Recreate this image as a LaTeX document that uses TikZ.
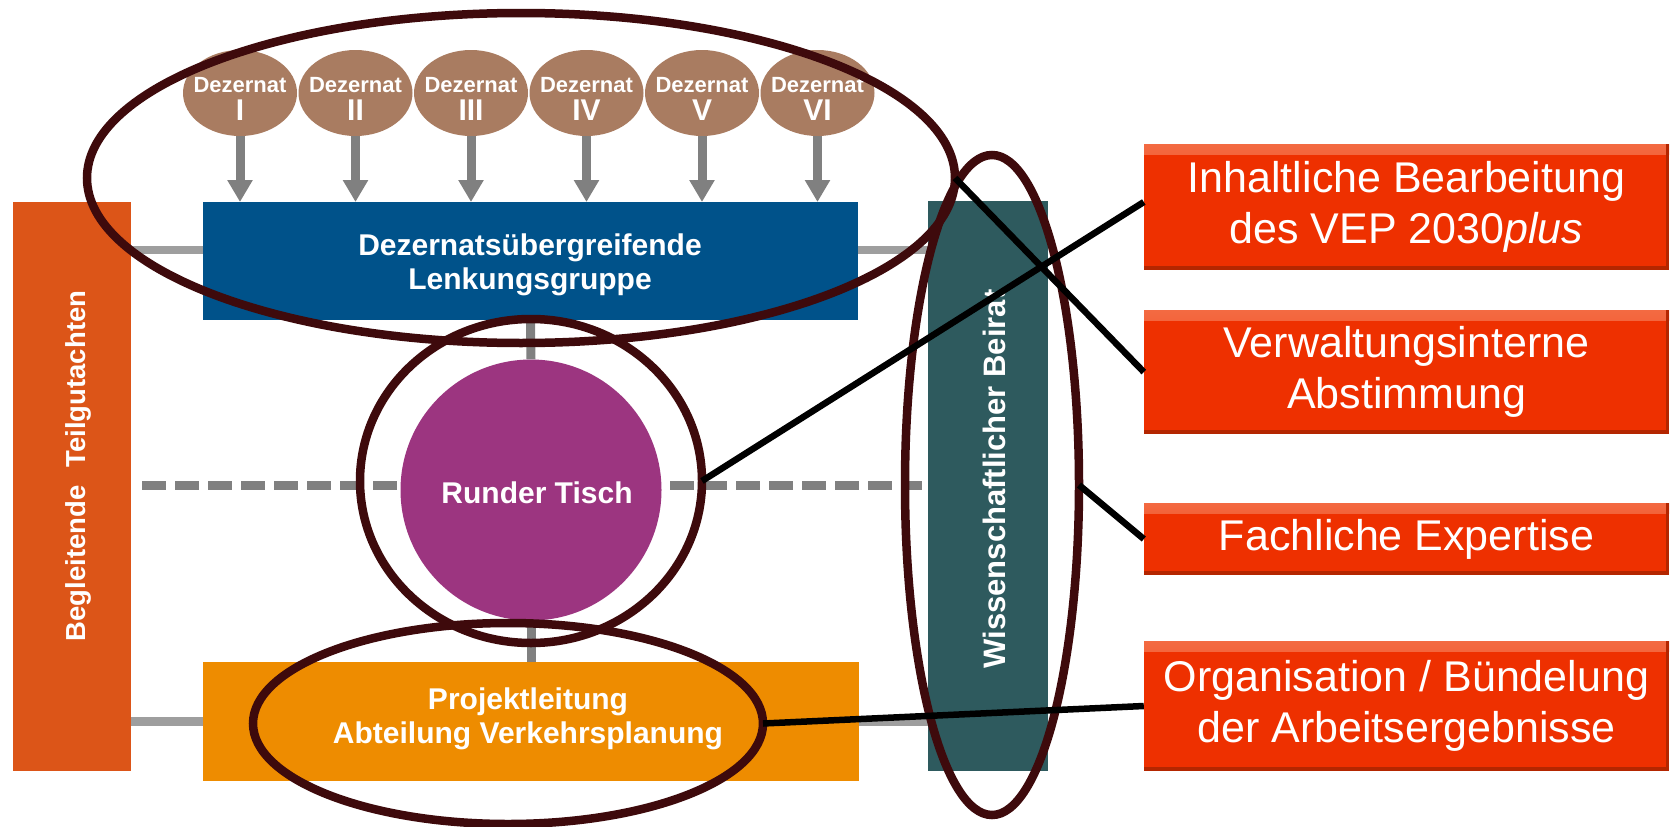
\documentclass[tikz,border=0pt]{standalone}
\usepackage{fontspec}
\setmainfont{Liberation Sans}
\usetikzlibrary{shapes.geometric,arrows.meta,calc}
\definecolor{dezbrown}{HTML}{A97C61}
\definecolor{lenkblue}{HTML}{00528A}
\definecolor{begorange}{HTML}{DC5518}
\definecolor{beiratteal}{HTML}{2E5A5E}
\definecolor{rtpurple}{HTML}{9C3580}
\definecolor{projorange}{HTML}{EE8C00}
\definecolor{redbox}{HTML}{EE3000}
\definecolor{redlight}{HTML}{F36A42}
\definecolor{reddark}{HTML}{B42600}
\definecolor{maroon}{HTML}{3E0A0C}
\definecolor{conngray}{HTML}{9E9E9E}
\definecolor{arrgray}{HTML}{808080}
\pgfdeclarelayer{bg}\pgfdeclarelayer{fg}
\pgfsetlayers{bg,main,fg}
\begin{document}
\begin{tikzpicture}[x=1pt,y=-1pt,
  dez/.style={ellipse, fill=dezbrown, minimum width=114pt, minimum height=86pt, inner sep=0pt},
  dezt/.style={text=white, font=\bfseries\fontsize{22}{22}\selectfont, anchor=base, inner sep=0pt},
  dezn/.style={text=white, font=\bfseries\fontsize{30}{30}\selectfont, anchor=base, inner sep=0pt},
  arr/.style={draw=arrgray, line width=9pt, -{Triangle[width=24pt,length=22pt]}},
  rect/.style={rectangle, inner sep=0pt, outer sep=0pt},
  wb/.style={text=white, font=\bfseries\fontsize{30}{34}\selectfont, align=center, inner sep=0pt},
  redb/.style={rectangle, fill=redbox, minimum width=525pt, inner sep=0pt, text=white,
    font=\fontsize{43}{51}\selectfont, align=center,
    path picture={
      \shade[top color=redlight, bottom color=redbox]
        (path picture bounding box.north west) rectangle ([yshift=-10pt]path picture bounding box.north east);
      \fill[reddark] (path picture bounding box.south west) rectangle ([yshift=4pt]path picture bounding box.south east);
      \fill[reddark] ([xshift=-3pt]path picture bounding box.south east) rectangle (path picture bounding box.north east);
    }},
  conn/.style={draw=conngray, line width=8.5pt},
  vconn/.style={draw=arrgray, line width=9pt},
  dconn/.style={draw=arrgray, line width=9pt, dash pattern=on 24pt off 9pt},
  mell/.style={ellipse, draw=maroon, line width=8.5pt, inner sep=0pt, outer sep=0pt},
  bl/.style={draw=black, line width=6.5pt}
]
\useasboundingbox (0,0) rectangle (1671,827);
\begin{pgfonlayer}{bg}
\fill[white] (0,0) rectangle (1671,827);
\end{pgfonlayer}

% side bars
\node[rect, fill=begorange, minimum width=118pt, minimum height=569pt] (beg) at (72,486.5) {};
\node[wb, rotate=90, font=\bfseries\fontsize{27.5}{30}\selectfont] (begt) at (78,466) {Begleitende\hspace{18pt}Teilgutachten};
\node[rect, fill=beiratteal, minimum width=120pt, minimum height=570pt] (beirat) at (988,486) {};
\node[wb, rotate=90, font=\bfseries\fontsize{31}{34}\selectfont] (beiratt) at (994,479) {Wissenschaftlicher Beirat};

% main boxes
\node[rect, fill=lenkblue, minimum width=655pt, minimum height=118pt] (lenk) at (530.5,261) {};
\node[wb] (lenkt) at (530,265) {Dezernatsübergreifende\\Lenkungsgruppe};
\node[circle, fill=rtpurple, minimum size=261pt, inner sep=0pt] (rt) at (531,490) {};
\node[wb] (rtt) at (537,493) {Runder Tisch};
\node[rect, fill=projorange, minimum width=656pt, minimum height=119pt] (proj) at (531,721.5) {};
\node[wb] (projt) at (528,719) {Projektleitung\\Abteilung Verkehrsplanung};

% Dezernate
\foreach \i/\r in {1/I,2/II,3/III,4/IV,5/V,6/VI}{
  \pgfmathsetmacro{\xx}{240+115.5*(\i-1)}
  \node[dez] (d\i) at (\xx,93) {};
  \node[dezt] (d\i t) at (\xx,92) {Dezernat};
  \node[dezn] (d\i n) at (\xx,120) {\r};
  \draw[arr] (d\i.south) -- (d\i.south |- lenk.north);
}

% grey connectors
\begin{pgfonlayer}{bg}
\coordinate (lenkL) at ([yshift=11pt]lenk.west);
\coordinate (lenkR) at ([yshift=11pt]lenk.east);
\draw[conn] (lenkL) -- (lenkL -| beg.east);
\draw[conn] (lenkR) -- (lenkR -| beirat.west);
\draw[conn] (proj.west) -- (proj.west -| beg.east);
\draw[conn] (proj.east) -- (proj.east -| beirat.west);
\coordinate (dl) at (142,485);
\coordinate (dr) at (922,485);
\draw[dconn] (dl) -- (dr);
\draw[vconn] (lenk.south) -- (rt.north);
\draw[vconn] (rt.south) -- (proj.north);
\end{pgfonlayer}

% red boxes
\node[redb, minimum height=126pt] (r1) at (1406.5,207) {Inhaltliche Bearbeitung\\des VEP 2030\textit{plus}};
\node[redb, minimum height=124pt] (r2) at (1406.5,372) {Verwaltungsinterne\\Abstimmung};
\node[redb, minimum height=72pt] (r3) at (1406.5,539) {Fachliche Expertise};
\node[redb, minimum height=130pt] (r4) at (1406.5,706) {Organisation / Bündelung\\der Arbeitsergebnisse};

% highlight ellipses and pointer lines
\begin{pgfonlayer}{fg}
\node[mell, minimum width=868pt, minimum height=330pt] (e1) at (521,178) {};
\node[mell, minimum width=342pt, minimum height=324pt] (e2) at (531,481) {};
\node[mell, minimum width=174pt, minimum height=660pt] (e3) at (992,485) {};
\node[mell, minimum width=510pt, minimum height=201pt] (e4) at (508,723.5) {};
\draw[bl] (e2.east) -- ([yshift=5pt]r1.west);
\draw[bl] (e1.east) -- (r2.west);
\draw[bl] (e3.east) -- (r3.west);
\draw[bl] (e4.east) -- (r4.west);
\end{pgfonlayer}
\end{tikzpicture}
\end{document}
